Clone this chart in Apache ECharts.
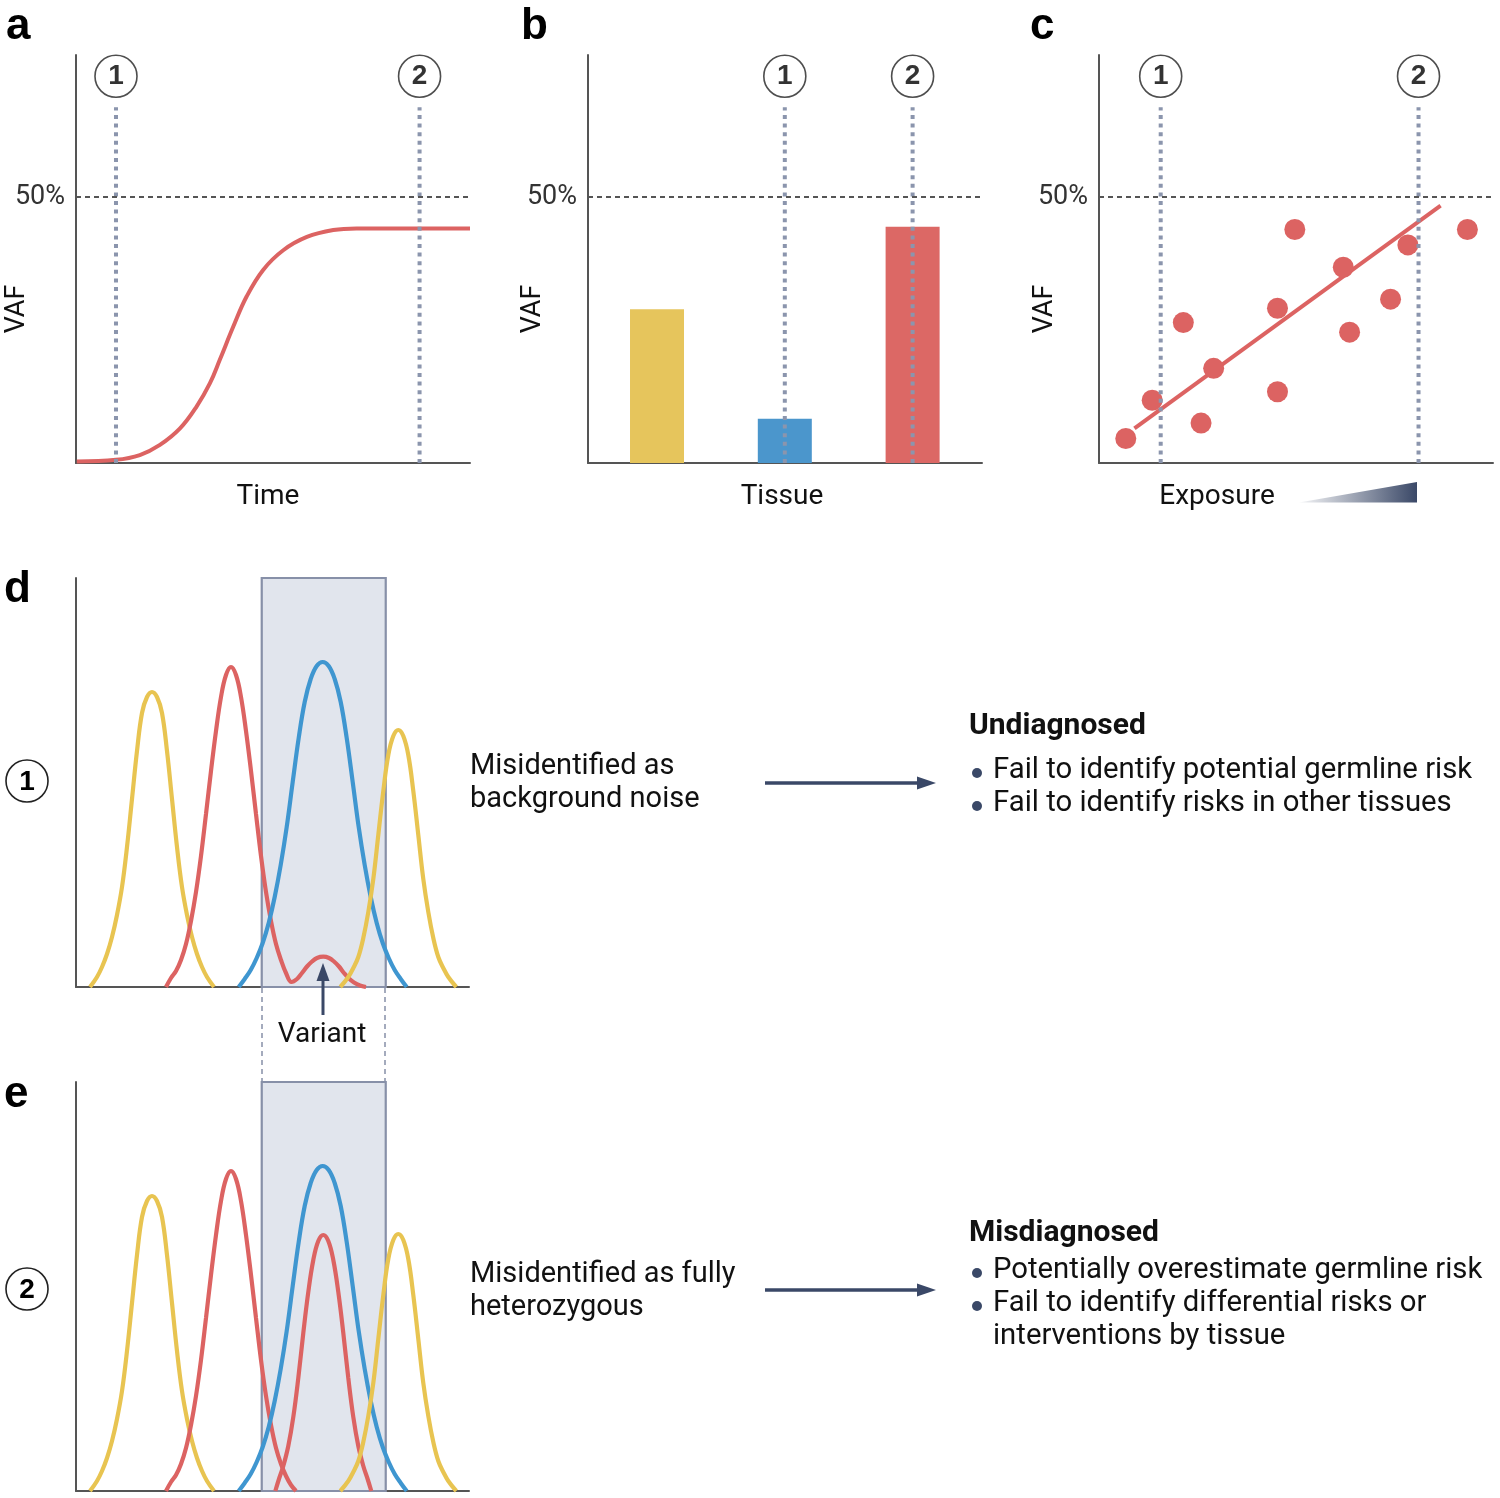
<!DOCTYPE html>
<html><head><meta charset="utf-8">
<script src="https://cdn.jsdelivr.net/npm/echarts@6/dist/echarts.min.js"></script>
<style>html,body{margin:0;padding:0;background:#fff}#main{width:1500px;height:1498px}</style>
</head><body><div id="main"></div>
<script>
// ---------------- data ----------------
const threshold = 50;                 // 50% VAF reference
const markerLabels = ['1', '2'];
// panel a: VAF over time
const timeVAF = [[0.2,0.3],[10.15,0.6],[16.2,1.5],[21.3,3.4],[26.4,6.5],[30.6,10.6],[34.0,15.0],[36.5,19.4],[39.9,25.6],[43.3,31.3],[47.5,36.3],[52.6,40.0],[58.6,42.5],[65.3,43.8],[71.2,44.1],[100,44.1]];
const timeMarkers = [10.15, 87.2];
// panel b: VAF by tissue
const tissueNames = ['Tissue A', 'Tissue B', 'Tissue C'];
const tissueVAF = [28.9, 8.3, 44.4];
const tissueMarkers = [1, 2];        // indices of the tissues marked 1 and 2
// panel c: VAF vs exposure
const exposureX   = [6.8, 13.5, 21.4, 25.9, 29.1, 45.3, 45.3, 49.7, 62.0, 63.6, 74.0, 78.4, 93.5];
const exposureVAF = [4.6, 11.8, 26.4, 7.5, 17.8, 29.1, 13.4, 43.9, 36.8, 24.6, 30.8, 41.0, 43.9];
const exposureTrend = [[9.0, 6.5], [86.7, 48.4]];
const exposureMarkers = [15.66, 81.1];
// panels d / e: signal traces (position along read, signal height)
const traceYellow1 = [[14,0],[21,10],[26,20],[31,33],[36,50],[41,72],[46,100],[51,140],[56,188],[61,236],[66,274],[71,290],[76,295],
  [81,290],[86,274],[91,236],[96,188],[101,140],[106,100],[111,72],[116,50],[121,33],[126,20],[131,10],[138,0]];
const traceRed1Noise = [[90,0],[95,9],[100,16],[105,27],[110,43],[115,66],[120,95],[125,131],[130,173],[135,216],[140,256],[145,290],[150,312],[155,320],
  [160,312],[165,290],[170,256],[175,216],[180,173],[185,131],[190,95],[195,66],[200,43],[205,27],[210,14],[215.5,5],
  [221,8],[226,14],[231,20.5],[236,25.5],[241,29],[247.3,30.3],[253,29],[258,25.5],[263,20.5],[268,14],[273,8.5],[278,4.5],[284,1.5],[290,0]];
const traceRed1 = [[90,0],[95,9],[100,16],[105,27],[110,43],[115,66],[120,95],[125,131],[130,173],[135,216],[140,256],[145,290],[150,312],[155,320],
  [160,312],[165,290],[170,256],[175,216],[180,173],[185,131],[190,95],[195,66],[200,43],[205,27],[210,15],[215,6],[220,0]];
const traceBlue = [[162.7,0],[168.7,8],[174.7,17],[180.7,29],[186.7,44],[192.7,64],[198.7,90],[204.7,122],[210.7,160],[216.7,205],[222.7,249],[228.7,285],[234.7,308],[240.7,321],[246.7,325],
  [252.7,321],[258.7,308],[264.7,285],[270.7,249],[276.7,205],[282.7,160],[288.7,122],[294.7,90],[300.7,64],[306.7,44],[312.7,29],[318.7,17],[324.7,8],[330.7,0]];
const traceYellow2 = [[264.3,0],[272.3,10],[277.3,19],[282.3,30],[287.3,49],[292.3,75],[297.3,108],[302.3,152],[307.3,196],[312.3,232],[317.3,251],[322.3,257],
  [327.3,251],[332.3,232],[337.3,196],[342.3,152],[347.3,108],[352.3,75],[357.3,49],[362.3,30],[367.3,19],[372.3,10],[380.3,0]];
const traceRedVariant = [[199.3,0],[203.3,13],[207.3,25],[212.3,45],[217.3,74],[222.3,113],[227.3,158],[232.3,199],[237.3,231],[242.3,250],[247.3,256],
  [252.3,250],[257.3,231],[262.3,199],[267.3,158],[272.3,113],[277.3,74],[282.3,45],[287.3,25],[291.3,13],[295.3,0]];
const variantWindow = [185.7, 309.7];

// ---------------- styling ----------------
const RED = '#dc6362', YEL = '#e8c451', BLU = '#3f96d0';
const BAR_COLORS = ['#e6c55c', '#4b96cc', '#dc6865'];
const DOT = '#8b95ad', AXIS = '#555', NAVY = '#3a4867';
const FONT = 'Roboto, "Liberation Sans", sans-serif';
const markerY = 72.7, markerLineTop = 66.9;

const chart = echarts.init(document.getElementById('main'));

const grids = [
  {left: 76, top: 55, width: 394, height: 408},
  {left: 588, top: 55, width: 394, height: 408},
  {left: 1099, top: 55, width: 394, height: 408},
  {left: 76, top: 578, width: 393, height: 409},
  {left: 76, top: 1082, width: 393, height: 409}
];
const axLine = {show: true, lineStyle: {color: AXIS, width: 2}};
function xAx(i, min, max) {
  return {gridIndex: i, type: 'value', min, max, axisLine: axLine, axisTick: {show: false}, axisLabel: {show: false}, splitLine: {show: false}};
}
function yVAF(i) {
  return {gridIndex: i, type: 'value', min: 0, max: 76.7, interval: 50, axisLine: axLine, axisTick: {show: false}, splitLine: {show: false},
    axisLabel: {formatter: v => v === threshold ? threshold + '%' : '', fontSize: 27, color: '#333', fontFamily: FONT, margin: 11,
      verticalAlign: 'middle', padding: [8, 0, 0, 0]}};
}
function yTrace(i) {
  return {gridIndex: i, type: 'value', min: 0, max: 409, axisLine: axLine, axisTick: {show: false}, axisLabel: {show: false}, splitLine: {show: false}};
}
const thresholdLine = {silent: true, symbol: 'none', label: {show: false},
  lineStyle: {type: [5, 4], color: '#555', width: 1.8}, data: [{yAxis: threshold}]};

function markerSeries(i, xs) {
  const out = [];
  xs.forEach((x, k) => {
    out.push({type: 'line', xAxisIndex: i, yAxisIndex: i, data: [[x, 0], [x, markerLineTop]], symbol: 'none', z: 4,
      lineStyle: {color: DOT, width: 4, type: [4, 4.6]}, silent: true});
  });
  out.push({type: 'scatter', xAxisIndex: i, yAxisIndex: i, symbol: 'circle', symbolSize: 42, z: 5, silent: true,
    data: xs.map((x, k) => ({name: markerLabels[k], value: [x, markerY]})),
    itemStyle: {color: '#fff', borderColor: '#222', borderWidth: 1.6},
    label: {show: true, position: 'inside', formatter: p => p.name, fontSize: 28, fontWeight: 'bold', color: '#000', fontFamily: '"Liberation Sans", sans-serif'}});
  return out;
}
function trace(i, data, color, extra) {
  return Object.assign({type: 'line', xAxisIndex: i, yAxisIndex: i, data, smooth: 0.4, symbol: 'none', silent: true,
    lineStyle: {color, width: 4.2}}, extra || {});
}
function windowArea(fill, border) {
  return {silent: true, itemStyle: {color: fill, borderColor: border, borderWidth: 1.8},
    data: [[{xAxis: variantWindow[0], yAxis: 0}, {xAxis: variantWindow[1], yAxis: 409}]]};
}

const series = [
  // a
  {type: 'line', xAxisIndex: 0, yAxisIndex: 0, data: timeVAF, smooth: 0.4, symbol: 'none', lineStyle: {color: RED, width: 4}, markLine: thresholdLine, z: 3},
  ...markerSeries(0, timeMarkers),
  // b
  {type: 'bar', xAxisIndex: 1, yAxisIndex: 1, barWidth: 54, z: 2,
    data: tissueVAF.map((v, k) => ({name: tissueNames[k], value: [k + 1, v], itemStyle: {color: BAR_COLORS[k]}})),
    markLine: thresholdLine},
  ...markerSeries(1, tissueMarkers.map(k => k + 1)),
  // c
  {type: 'scatter', xAxisIndex: 2, yAxisIndex: 2, symbolSize: 21, data: exposureX.map((x, k) => [x, exposureVAF[k]]),
    itemStyle: {color: RED, opacity: 1}, markLine: thresholdLine, z: 3},
  {type: 'line', xAxisIndex: 2, yAxisIndex: 2, data: exposureTrend, symbol: 'none', lineStyle: {color: RED, width: 4}, z: 3},
  ...markerSeries(2, exposureMarkers),
  // d
  trace(3, traceYellow1, YEL, {markArea: windowArea('#e1e5ed', '#8790a8')}),
  trace(3, traceRed1Noise, RED),
  trace(3, traceBlue, BLU),
  trace(3, traceYellow2, YEL, {markArea: windowArea('rgba(0,0,0,0)', '#8790a8')}),
  // e
  trace(4, traceYellow1, YEL, {markArea: windowArea('#e1e5ed', '#8790a8')}),
  trace(4, traceRed1, RED),
  trace(4, traceBlue, BLU),
  trace(4, traceRedVariant, RED),
  trace(4, traceYellow2, YEL, {markArea: windowArea('rgba(0,0,0,0)', '#8790a8')})
];

function txt(text, x, y, size, opts) {
  opts = opts || {};
  return {type: 'text', x, y, rotation: opts.rotation || 0, z: 10, silent: true,
    style: {text, x: 0, y: 0, fontSize: size, fontFamily: opts.family || FONT, fontWeight: opts.weight || 'normal',
      fill: opts.color || '#111', align: opts.align || 'left', textAlign: opts.align || 'left',
      verticalAlign: 'middle', textVerticalAlign: 'middle'}};
}
function circled(label, x, y) {
  return [
    {type: 'circle', shape: {cx: x, cy: y, r: 21}, style: {fill: '#fff', stroke: '#222', lineWidth: 1.6}, z: 10, silent: true},
    txt(label, x, y + 1, 28, {align: 'center', weight: 'bold', family: '"Liberation Sans", sans-serif', color: '#000'})
  ];
}
function arrowRight(y) {
  return [
    {type: 'line', shape: {x1: 765, y1: y, x2: 926, y2: y}, style: {stroke: NAVY, lineWidth: 3.5}, z: 10, silent: true},
    {type: 'polygon', shape: {points: [[917, y - 6.5], [936, y], [917, y + 6.5]]}, style: {fill: NAVY}, z: 10, silent: true}
  ];
}
function bullet(y) {
  return {type: 'circle', shape: {cx: 977, cy: y + 2, r: 5}, style: {fill: NAVY}, z: 10, silent: true};
}
const LET = {weight: 'bold', family: '"Liberation Sans", sans-serif', color: '#000'};
const graphics = [
  txt('a', 6, 27, 44, LET), txt('b', 521, 27, 44, LET), txt('c', 1030, 27, 44, LET),
  txt('d', 4, 590, 44, LET), txt('e', 4, 1095, 44, LET),
  txt('Time', 268, 497, 28, {align: 'center'}),
  txt('Tissue', 782, 497, 28, {align: 'center'}),
  txt('Exposure', 1217, 497, 28, {align: 'center'}),
  txt('VAF', 17, 309, 27, {align: 'center', rotation: Math.PI / 2}),
  txt('VAF', 533, 309, 27, {align: 'center', rotation: Math.PI / 2}),
  txt('VAF', 1045, 309, 27, {align: 'center', rotation: Math.PI / 2}),
  {type: 'polygon', silent: true, z: 10, shape: {points: [[1299, 502.5], [1417, 482], [1417, 502.5]]},
    style: {fill: {type: 'linear', x: 0, y: 0, x2: 1, y2: 0, colorStops: [{offset: 0, color: 'rgba(58,72,103,0.05)'}, {offset: 1, color: '#3a4867'}]}}},
  ...circled('1', 27, 781), ...circled('2', 27, 1289),
  // connectors between d and e window
  {type: 'line', shape: {x1: 262, y1: 988, x2: 262, y2: 1081}, style: {stroke: '#8790a8', lineWidth: 1.5, lineDash: [5, 4]}, silent: true},
  {type: 'line', shape: {x1: 385, y1: 988, x2: 385, y2: 1081}, style: {stroke: '#8790a8', lineWidth: 1.5, lineDash: [5, 4]}, silent: true},
  // variant arrow
  {type: 'line', shape: {x1: 323, y1: 1015, x2: 323, y2: 976}, style: {stroke: NAVY, lineWidth: 3}, z: 10, silent: true},
  {type: 'polygon', shape: {points: [[316.5, 981], [323, 963], [329.5, 981]]}, style: {fill: NAVY}, z: 10, silent: true},
  txt('Variant', 322, 1035, 28, {align: 'center'}),
  txt('Misidentified as', 470, 767, 29), txt('background noise', 470, 800, 29),
  txt('Misidentified as fully', 470, 1275, 29), txt('heterozygous', 470, 1308, 29),
  ...arrowRight(783), ...arrowRight(1290),
  txt('Undiagnosed', 969, 726, 30, {weight: 'bold'}),
  bullet(771), txt('Fail to identify potential germline risk', 993, 771, 29.3),
  bullet(804), txt('Fail to identify risks in other tissues', 993, 804, 29.3),
  txt('Misdiagnosed', 969, 1233, 30, {weight: 'bold'}),
  bullet(1271), txt('Potentially overestimate germline risk', 993, 1271, 29.3),
  bullet(1304), txt('Fail to identify differential risks or', 993, 1304, 29.3),
  txt('interventions by tissue', 993, 1337, 29.3)
];

chart.setOption({
  animation: false,
  backgroundColor: '#fff',
  grid: grids,
  xAxis: [xAx(0, 0, 100), xAx(1, 0.46, 3.543), xAx(2, 0, 100), xAx(3, 0, 393), xAx(4, 0, 393)],
  yAxis: [yVAF(0), yVAF(1), yVAF(2), yTrace(3), yTrace(4)],
  series,
  graphic: {elements: graphics}
});
</script></body></html>
